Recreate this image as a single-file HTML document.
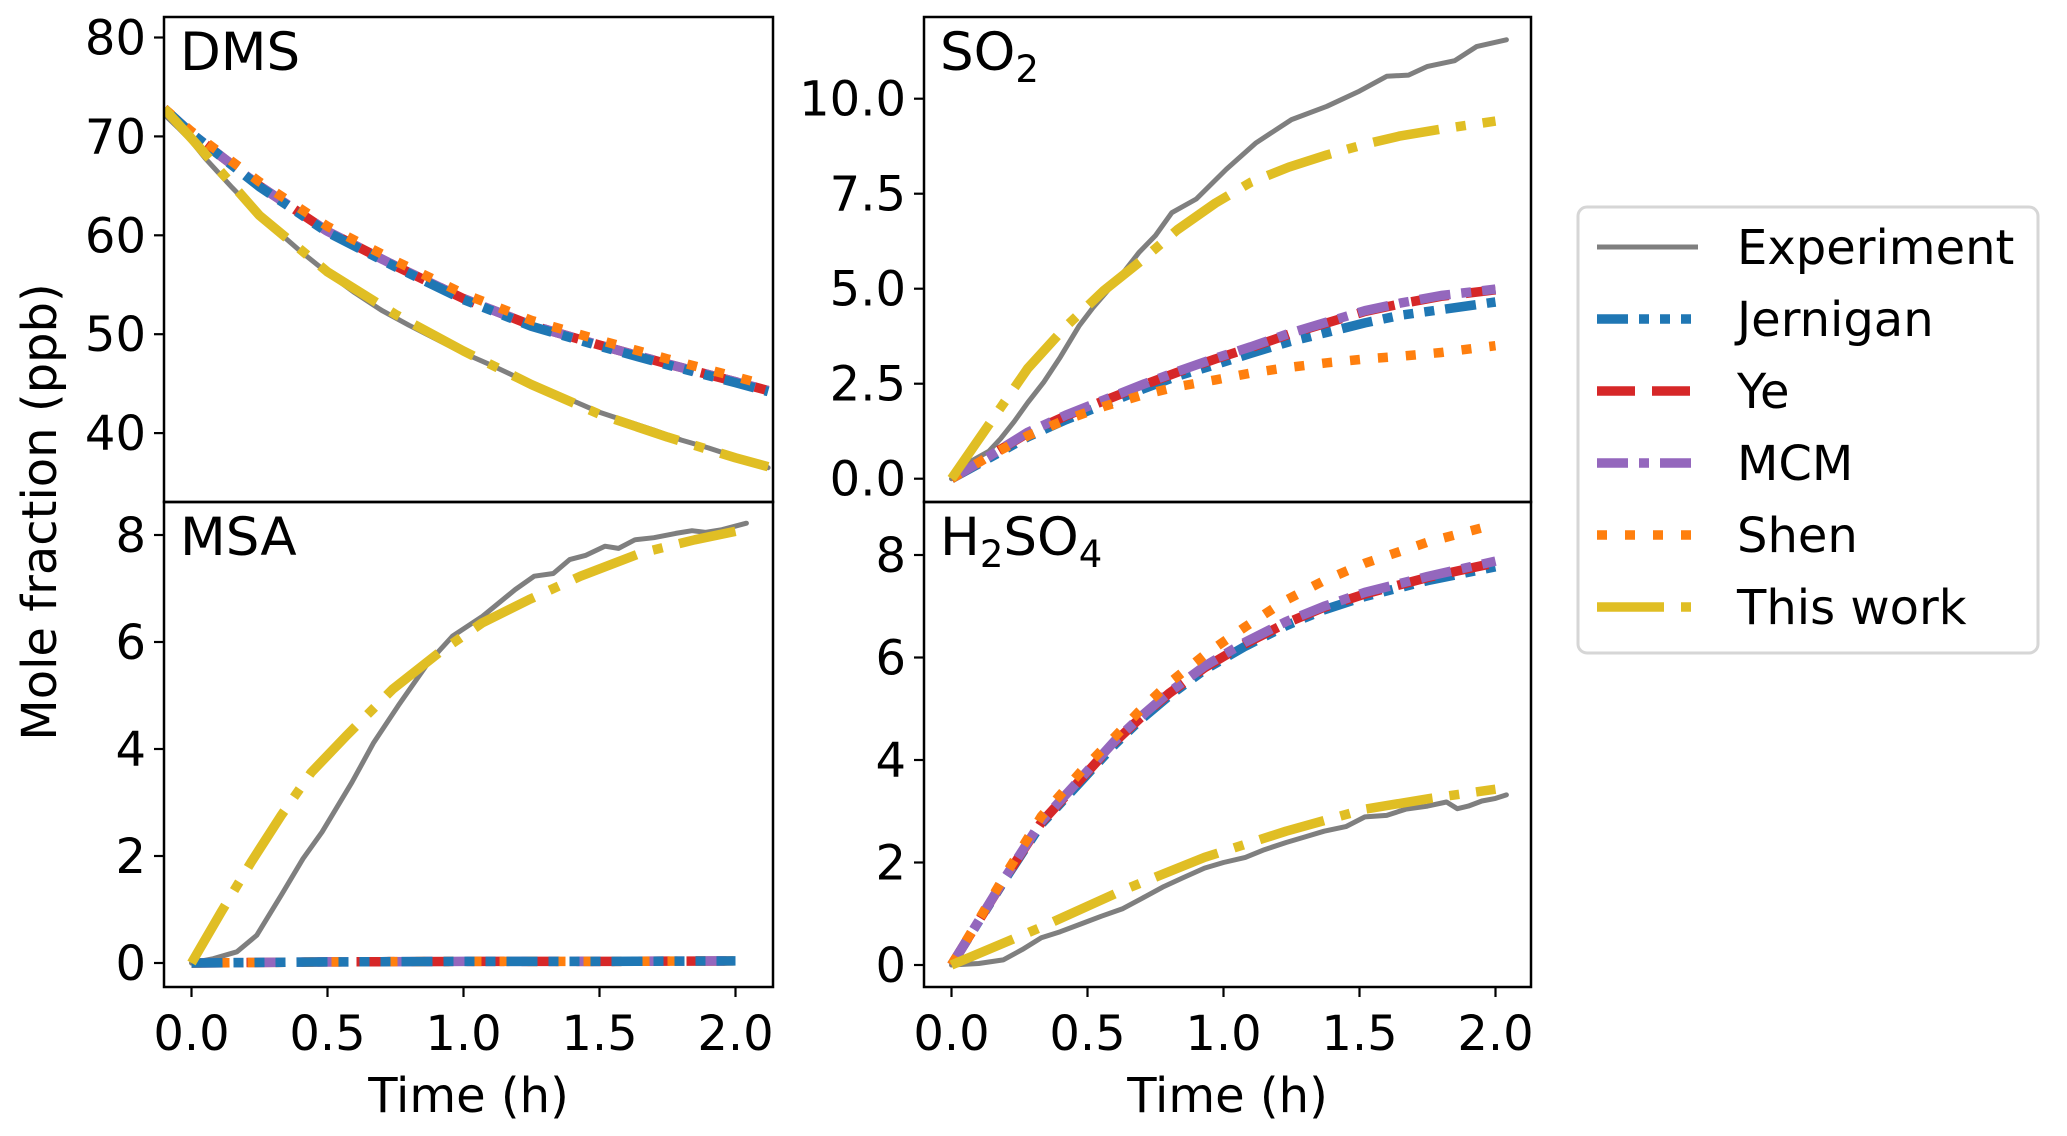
<!DOCTYPE html>
<html><head><meta charset="utf-8"><style>
html,body{margin:0;padding:0;background:#fff}
svg{display:block}
text{font-family:"DejaVu Sans","Liberation Sans",sans-serif;fill:#000}
</style></head><body>
<svg id="fig" width="2067" height="1136" viewBox="0 0 2067 1136" xmlns="http://www.w3.org/2000/svg"></svg>
<script>
// ---------- data ----------
const xTicks = [0, 0.5, 1.0, 1.5, 2.0];
const xTickLabels = ["0.0", "0.5", "1.0", "1.5", "2.0"];
const dmsTicks = [40, 50, 60, 70, 80];
const so2Ticks = [0, 2.5, 5.0, 7.5, 10.0];
const so2TickLabels = ["0.0", "2.5", "5.0", "7.5", "10.0"];
const msaTicks = [0, 2, 4, 6, 8];
const h2so4Ticks = [0, 2, 4, 6, 8];

// DMS
const dmsExpT = [-0.1,-0.05,0,0.05,0.1,0.15,0.2,0.25,0.3,0.35,0.4,0.5,0.6,0.7,0.8,0.9,1.0,1.1,1.2,1.3,1.4,1.5,1.6,1.7,1.8,1.9,2.0,2.1,2.12];
const dmsExpV = [72.2,70.9,69.5,67.8,66.3,64.8,63.4,62.0,60.8,59.6,58.4,56.2,54.2,52.4,50.9,49.5,48.1,46.9,45.6,44.5,43.3,42.1,41.2,40.3,39.3,38.5,37.6,36.8,36.5];
const dmsModelT = [-0.1,0,0.25,0.5,0.75,1.0,1.25,1.5,1.75,2.0,2.12];
const dmsJernigan = [72.8,70.3,64.9,60.3,56.8,53.5,50.8,48.8,46.9,45.1,44.2];
const dmsYe = [72.8,70.3,65.0,60.4,56.9,53.6,50.9,48.9,47.0,45.2,44.3];
const dmsMCM = [72.8,70.3,65.0,60.4,56.9,53.6,50.9,48.9,47.0,45.2,44.3];
const dmsShen = [72.8,70.5,65.4,60.9,57.4,54.1,51.4,49.4,47.5,45.7,44.8];
const dmsThisWork = [72.8,69.8,62.0,56.3,52.0,48.3,44.9,41.9,39.6,37.5,36.6];

// SO2
const so2ExpT = [0,0.07,0.137,0.18,0.23,0.28,0.34,0.4,0.47,0.52,0.58,0.64,0.69,0.75,0.81,0.9,1.01,1.12,1.25,1.38,1.5,1.6,1.68,1.75,1.85,1.93,2.04];
const so2ExpV = [0,0.45,0.72,1.05,1.5,2.0,2.55,3.2,4.03,4.5,5.0,5.5,5.96,6.4,7.0,7.36,8.14,8.84,9.45,9.8,10.2,10.59,10.62,10.85,11.0,11.37,11.55];
const so2ModelT = [0,0.14,0.28,0.42,0.56,0.7,0.83,0.97,1.1,1.24,1.38,1.52,1.65,1.8,2.0];
const so2Jernigan = [0,0.55,1.1,1.55,1.95,2.35,2.7,3.0,3.3,3.6,3.85,4.1,4.3,4.45,4.65];
const so2Ye = [0,0.6,1.2,1.65,2.05,2.45,2.8,3.15,3.45,3.8,4.1,4.4,4.6,4.8,4.97];
const so2MCM = [0,0.6,1.22,1.67,2.07,2.47,2.82,3.17,3.47,3.82,4.12,4.42,4.62,4.82,4.99];
const so2Shen = [0,0.6,1.13,1.55,1.9,2.2,2.42,2.6,2.78,2.93,3.05,3.15,3.22,3.32,3.5];
const so2ThisWork = [0,1.45,2.9,4.0,4.95,5.75,6.55,7.25,7.8,8.2,8.52,8.8,9.02,9.2,9.41];

// MSA
const msaExpT = [0,0.08,0.167,0.24,0.33,0.41,0.48,0.59,0.67,0.76,0.87,0.96,1.07,1.19,1.26,1.33,1.39,1.45,1.52,1.57,1.63,1.7,1.78,1.84,1.89,1.95,2.04];
const msaExpV = [0,0.08,0.21,0.52,1.27,1.95,2.45,3.38,4.12,4.81,5.61,6.11,6.48,6.98,7.23,7.28,7.54,7.62,7.79,7.75,7.91,7.95,8.03,8.08,8.05,8.1,8.22];
const msaModelT = [0,0.5,1.0,1.5,2.0];
const msaJernigan = [0,0.02,0.03,0.03,0.04];
const msaYe = [0,0.02,0.03,0.03,0.04];
const msaMCM = [0,0.02,0.03,0.03,0.04];
const msaShen = [0,0.02,0.03,0.03,0.04];
const msaThisT = [0,0.11,0.22,0.33,0.44,0.57,0.74,0.91,1.07,1.24,1.43,1.65,1.85,2.0];
const msaThisWork = [0,0.96,1.89,2.76,3.56,4.25,5.12,5.8,6.36,6.79,7.23,7.66,7.91,8.07];

// H2SO4
const h2ExpT = [0,0.1,0.19,0.26,0.33,0.4,0.48,0.55,0.63,0.7,0.78,0.85,0.93,1.0,1.08,1.15,1.23,1.3,1.37,1.45,1.52,1.6,1.67,1.75,1.82,1.86,1.9,1.95,2.0,2.04];
const h2ExpV = [0,0.03,0.1,0.3,0.53,0.65,0.81,0.95,1.1,1.3,1.53,1.7,1.89,2.0,2.1,2.25,2.39,2.5,2.61,2.7,2.89,2.92,3.04,3.1,3.18,3.05,3.1,3.2,3.25,3.32];
const h2ModelT = [0,0.1,0.2,0.33,0.48,0.6,0.69,0.8,0.93,1.08,1.23,1.37,1.52,1.75,2.0];
const h2Jernigan = [0,0.85,1.7,2.75,3.61,4.3,4.76,5.25,5.76,6.22,6.62,6.93,7.19,7.5,7.77];
const h2Ye = [0,0.86,1.72,2.78,3.65,4.35,4.8,5.3,5.8,6.27,6.67,6.98,7.24,7.56,7.85];
const h2MCM = [0,0.86,1.73,2.8,3.67,4.37,4.82,5.32,5.83,6.3,6.7,7.0,7.27,7.58,7.88];
const h2Shen = [0,0.88,1.78,2.9,3.8,4.45,4.95,5.5,6.05,6.6,7.12,7.5,7.84,8.25,8.6];
const h2ThisT = [0,0.33,0.63,0.93,1.23,1.52,1.76,2.0];
const h2ThisWork = [0,0.74,1.46,2.1,2.61,3.04,3.25,3.43];

// ---------- drawing ----------
const NS = "http://www.w3.org/2000/svg";
const svg = document.getElementById("fig");
function mk(tag, attrs, parent) {
  const e = document.createElementNS(NS, tag);
  for (const k in attrs) e.setAttribute(k, attrs[k]);
  (parent || svg).appendChild(e);
  return e;
}
const styles = {
  exp: {stroke:"#7f7f7f", w:5, dash:""},
  jer: {stroke:"#1f77b4", w:9.5, dash:"31 11 10 11 10 11 10 11"},
  ye:  {stroke:"#d62728", w:9.5, dash:"38 17"},
  mcm: {stroke:"#9467bd", w:9.5, dash:"31 11 10 11"},
  shen:{stroke:"#ff7f0e", w:9.5, dash:"10 18"},
  tw:  {stroke:"#e0be24", w:9.5, dash:"67 17 10 17"}
};
function makeX(left) { return t => left + 27.5 + 272 * t; }
function makeY(p0, v0, pxPerUnit) { return v => p0 - (v - v0) * pxPerUnit; }

const panels = [
  {id:"dms", x0:164, x1:773, y0:17, y1:502, yFn:makeY(37.5,80,9.89), ticks:dmsTicks, tickLabels:dmsTicks.map(String), showX:false, label:"DMS"},
  {id:"so2", x0:924, x1:1531, y0:17, y1:502, yFn:makeY(478.7,0,38.0), ticks:so2Ticks, tickLabels:so2TickLabels, showX:false, label:"SO2"},
  {id:"msa", x0:164, x1:773, y0:502, y1:987, yFn:makeY(963,0,53.5), ticks:msaTicks, tickLabels:msaTicks.map(String), showX:true, label:"MSA"},
  {id:"h2so4", x0:924, x1:1531, y0:502, y1:987, yFn:makeY(965,0,51.25), ticks:h2so4Ticks, tickLabels:h2so4Ticks.map(String), showX:true, label:"H2SO4"}
];
const seriesByPanel = {
  dms: [["exp",dmsExpT,dmsExpV],["ye",dmsModelT,dmsYe],["mcm",dmsModelT,dmsMCM],["jer",dmsModelT,dmsJernigan],["shen",dmsModelT,dmsShen],["tw",dmsModelT,dmsThisWork]],
  so2: [["exp",so2ExpT,so2ExpV],["jer",so2ModelT,so2Jernigan],["ye",so2ModelT,so2Ye],["mcm",so2ModelT,so2MCM],["shen",so2ModelT,so2Shen],["tw",so2ModelT,so2ThisWork]],
  msa: [["exp",msaExpT,msaExpV],["ye",msaModelT,msaYe],["mcm",msaModelT,msaMCM],["shen",msaModelT,msaShen],["jer",msaModelT,msaJernigan],["tw",msaThisT,msaThisWork]],
  h2so4: [["exp",h2ExpT,h2ExpV],["jer",h2ModelT,h2Jernigan],["ye",h2ModelT,h2Ye],["mcm",h2ModelT,h2MCM],["shen",h2ModelT,h2Shen],["tw",h2ThisT,h2ThisWork]]
};
const defs = mk("defs", {});
panels.forEach(p => {
  const xFn = makeX(p.x0);
  const g = mk("g", {});
  
  
  const cp = mk("clipPath", {id:"clip-"+p.id}, defs);
  mk("rect", {x:p.x0, y:p.y0, width:p.x1-p.x0, height:p.y1-p.y0}, cp);
  const lines = mk("g", {"clip-path":"url(#clip-"+p.id+")"}, g);
  seriesByPanel[p.id].forEach(s => {
    const st = styles[s[0]];
    const pts = s[1].map((t,i) => xFn(t).toFixed(1) + "," + p.yFn(s[2][i]).toFixed(1)).join(" ");
    const pl = mk("polyline", {points:pts, fill:"none", stroke:st.stroke, "stroke-width":st.w, "stroke-linejoin":"round", "stroke-linecap": st.dash ? "butt" : "round"}, lines);
    if (st.dash) pl.setAttribute("stroke-dasharray", st.dash);
    
    
  });
  const fr = mk("rect", {x:p.x0, y:p.y0, width:p.x1-p.x0, height:p.y1-p.y0, fill:"none", stroke:"#000", "stroke-width":2.5}, g);
  
  
  p.ticks.forEach((v,i) => {
    const y = p.yFn(v);
    mk("line", {x1:p.x0-10, x2:p.x0, y1:y, y2:y, stroke:"#000", "stroke-width":2.2}, g);
    const t = mk("text", {x:p.x0-18, y:y+17, "text-anchor":"end", "font-size":48}, g);
    t.textContent = p.tickLabels[i];
    
    
  });
  if (p.showX) {
    xTicks.forEach((v,i) => {
      const x = xFn(v);
      mk("line", {x1:x, x2:x, y1:p.y1, y2:p.y1+10, stroke:"#000", "stroke-width":2.2}, g);
      const t = mk("text", {x:x, y:1050, "text-anchor":"middle", "font-size":48}, g);
      t.textContent = xTickLabels[i];
      
      
    });
    const xl = mk("text", {x:(p.x0+p.x1)/2, y:1112, "text-anchor":"middle", "font-size":48}, g);
    xl.textContent = "Time (h)";
    
    
  }
  const lb = mk("text", {x:p.x0+16, y:p.y0+53, "font-size":53}, g);
  
  
  if (p.label === "SO2") {
    lb.textContent = "SO";
    const s = mk("tspan", {"font-size":37, dy:12}, lb); s.textContent = "2";
  } else if (p.label === "H2SO4") {
    lb.appendChild(document.createTextNode("H"));
    const s1 = mk("tspan", {"font-size":37, dy:12}, lb); s1.textContent = "2";
    const s2 = mk("tspan", {dy:-12}, lb); s2.textContent = "SO";
    const s3 = mk("tspan", {"font-size":37, dy:12}, lb); s3.textContent = "4";
  } else lb.textContent = p.label;
});
const yt = mk("text", {x:0, y:0, "text-anchor":"middle", "font-size":48, transform:"translate(56,512) rotate(-90)"});
yt.textContent = "Mole fraction (ppb)";



const legendNames = ["Experiment","Jernigan","Ye","MCM","Shen","This work"];
const legendKeys = ["exp","jer","ye","mcm","shen","tw"];
const lg = mk("g", {});


mk("rect", {x:1578, y:207, width:460, height:446, rx:9, fill:"#fff", stroke:"#d6d6d6", "stroke-width":3}, lg);
legendNames.forEach((n,i) => {
  const y = 247 + i*72;
  const st = styles[legendKeys[i]];
  const ln = mk("line", {x1:1597, x2:1698, y1:y, y2:y, stroke:st.stroke, "stroke-width":st.w}, lg);
  if (st.dash) ln.setAttribute("stroke-dasharray", st.dash);
  const t = mk("text", {x:1737, y:y+17, "font-size":48}, lg);
  t.textContent = n;
  
  
});
</script>
</body></html>
